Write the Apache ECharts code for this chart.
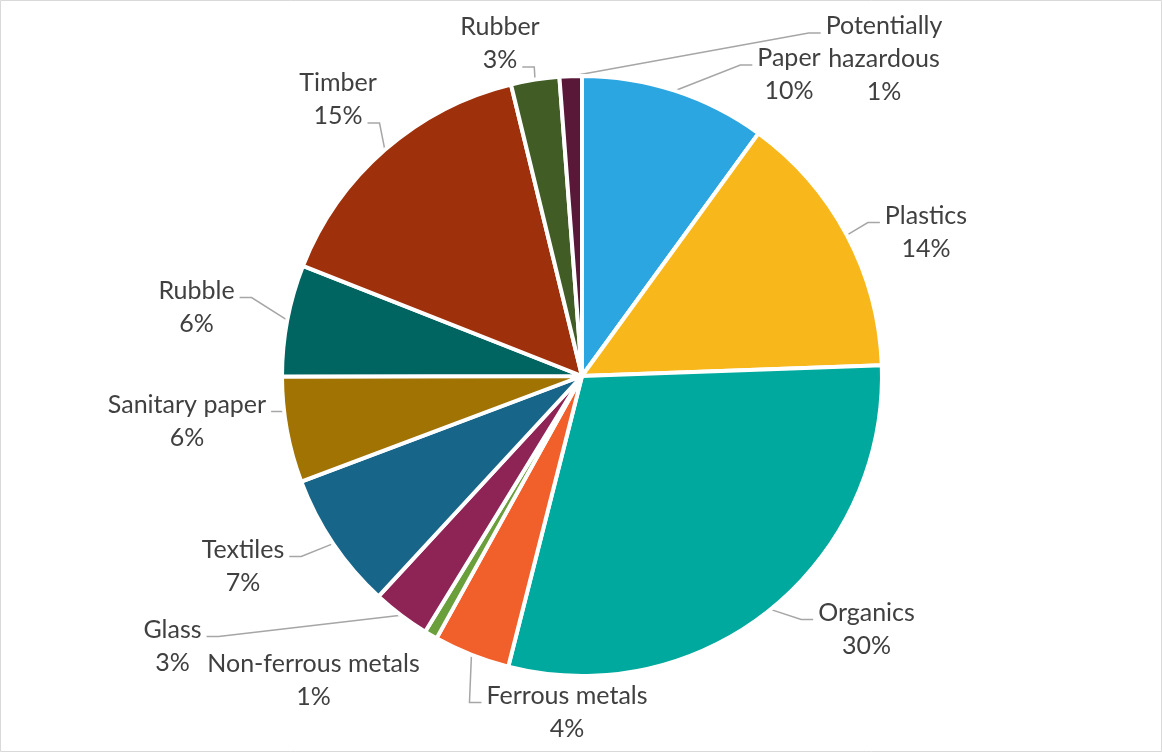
<!DOCTYPE html>
<html>
<head>
<meta charset="utf-8">
<script src="https://cdn.jsdelivr.net/npm/echarts@6/dist/echarts.min.js"></script>
<style>
  html, body { margin: 0; padding: 0; background: #fff; }
  #chart { width: 1162px; height: 752px; }
</style>
</head>
<body>
<div id="chart"></div>
<script>
// waste composition, clockwise from 12 o'clock
const categories = ['Paper', 'Plastics', 'Organics', 'Ferrous metals', 'Non-ferrous metals', 'Glass',
  'Textiles', 'Sanitary paper', 'Rubble', 'Timber', 'Rubber', 'Potentially\nhazardous']
const shares = [10.0, 14.4, 29.5, 4.1, 0.7, 3.1, 7.4, 5.7, 6.0, 15.2, 2.6, 1.2]
const colors = ['#2ca6e0', '#f8b81b', '#00a99d', '#f15f2a', '#6a9f3c', '#8e2456',
  '#176589', '#a07302', '#006560', '#9e300b', '#415c25', '#5a1838']

// label centres (px) and which text row the leader line meets (-1 = no line)
const labelPos = [[789, 74.5], [926, 232], [866.5, 629], [567, 712], [313.5, 680], [172.5, 646],
  [243, 566], [187, 421], [196.5, 307], [338, 99.5], [500, 43.5], [884, 59]]
const lineRow = [0, 0, 0, 0, -1, 0, 0, 0, 0, 1, 1, 0]

const FONT = 25
const LINE_H = 33
const total = shares.reduce((a, b) => a + b, 0)
const texts = shares.map((v, i) => categories[i] + '\n' + Math.round(v / total * 100) + '%')

const ctx = document.createElement('canvas').getContext('2d')
ctx.font = FONT + 'px Lato'

const chart = echarts.init(document.getElementById('chart'))
chart.setOption({
  animation: false,
  graphic: [{
    type: 'rect',
    shape: { x: 0.5, y: 0.5, width: 1161, height: 751 },
    style: { fill: 'none', stroke: '#d9d9d9', lineWidth: 1 },
    silent: true
  }],
  series: [{
    type: 'pie',
    center: [582, 376],
    radius: 300,
    startAngle: 90,
    clockwise: true,
    avoidLabelOverlap: false,
    itemStyle: { borderColor: '#fff', borderWidth: 4 },
    label: {
      show: true,
      position: 'outside',
      formatter: p => texts[p.dataIndex],
      color: '#404040',
      fontFamily: 'Lato',
      fontSize: FONT,
      lineHeight: LINE_H
    },
    labelLine: {
      show: true,
      lineStyle: { color: '#a6a6a6', width: 1.5 }
    },
    emphasis: { disabled: true },
    labelLayout: function (p) {
      const i = p.dataIndex
      const cx = labelPos[i][0]
      const cy = labelPos[i][1]
      const out = { x: cx, y: cy, align: 'center', verticalAlign: 'middle' }
      const r = lineRow[i]
      if (r < 0 || !p.labelLinePoints) return out
      const rows = texts[i].split('\n')
      const a = p.labelLinePoints[0]
      const rowY = cy - (rows.length - 1) * LINE_H / 2 + r * LINE_H + 7
      const half = ctx.measureText(rows[r]).width / 2 + 5
      const dir = a[0] < cx ? -1 : 1
      const ex = cx + dir * half
      out.labelLinePoints = [[a[0], a[1]], [ex + dir * 12, rowY], [ex, rowY]]
      return out
    },
    data: shares.map((v, i) => ({
      name: categories[i],
      value: v,
      itemStyle: { color: colors[i] },
      labelLine: { show: lineRow[i] >= 0 }
    }))
  }]
})
</script>
</body>
</html>
